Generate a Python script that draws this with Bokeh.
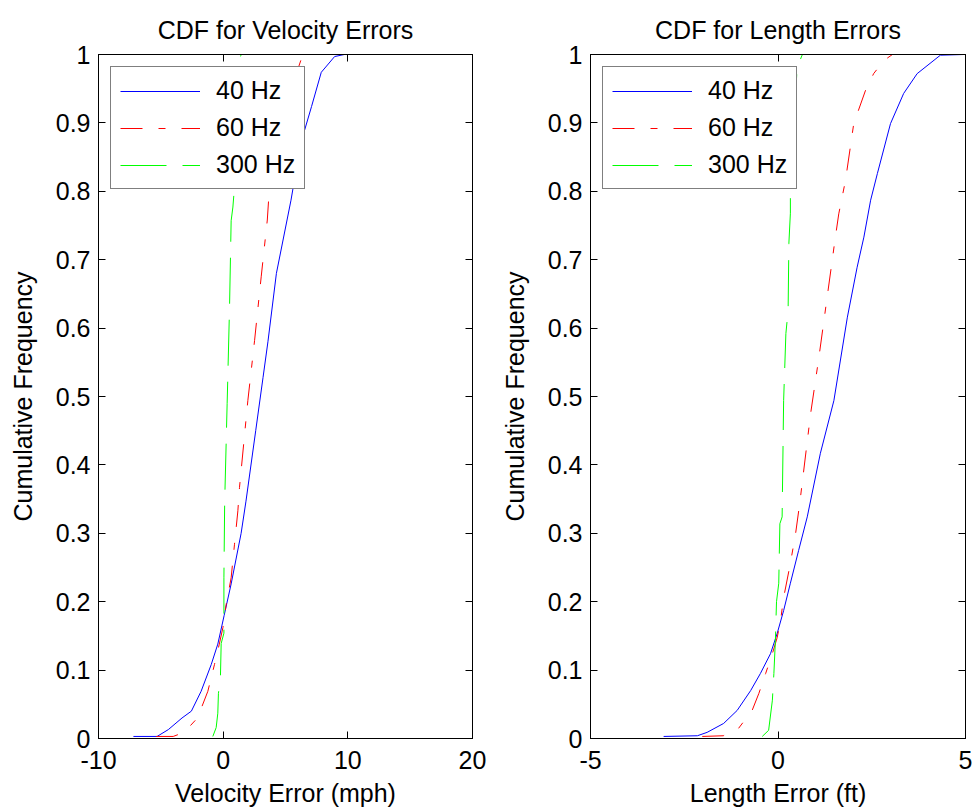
from bokeh.plotting import figure
from bokeh.layouts import row
from bokeh.models import Range1d, FixedTicker, LinearAxis, CustomJSTickFormatter, Legend, LegendItem
from bokeh.embed import file_html
from bokeh.resources import INLINE

# ---------------- data ----------------
y_ticks = [0, 0.1, 0.2, 0.3, 0.4, 0.5, 0.6, 0.7, 0.8, 0.9, 1.0]
vel_x_ticks = [-10, 0, 10, 20]
len_x_ticks = [-5, 0, 5]
series_names = ["40 Hz", "60 Hz", "300 Hz"]

# Velocity errors (mph)
vel_40_x = [-7.2, -5.3, -4.4, -3.3, -2.55, -1.77, -0.96, -0.43, 0.08, 0.64, 1.44, 1.83,
            2.61, 3.2, 3.59, 4.27, 5.44, 6.22, 7.09, 7.87, 8.94, 9.72, 10.3]
vel_40_y = [0.003, 0.003, 0.013, 0.03, 0.04, 0.069, 0.108, 0.138, 0.18, 0.226, 0.3, 0.347,
            0.45, 0.528, 0.58, 0.68, 0.787, 0.87, 0.924, 0.974, 0.997, 1.0, 1.0]
vel_60_x = [-5.37, -4.01, -3.13, -2.06, -1.23, -0.7, -0.31, -0.02, 0.24, 0.64, 0.91, 1.18,
            1.31, 1.98, 2.52, 3.05, 3.54, 3.68, 4.9, 5.83, 6.26, 6.66, 7.48]
vel_60_y = [0.003, 0.003, 0.009, 0.03, 0.069, 0.108, 0.138, 0.162, 0.196, 0.235, 0.284, 0.333,
            0.367, 0.494, 0.582, 0.675, 0.758, 0.797, 0.9, 0.97, 0.993, 1.0, 1.0]
vel_300_x = [-0.83, -0.56, -0.43, -0.38, -0.22, -0.16, 0.06, 0.06, 0.12, 0.32, 0.51,
             0.64, 0.78, 0.88, 1.18, 1.45]
vel_300_y = [0.003, 0.016, 0.037, 0.066, 0.089, 0.139, 0.154, 0.235, 0.345, 0.49, 0.63,
             0.757, 0.777, 0.8, 0.987, 1.0]

# Length errors (ft)
len_40_x = [-3.05, -2.15, -1.89, -1.45, -1.09, -0.73, -0.47, -0.2, -0.02, 0.15, 0.33, 0.55,
            0.78, 1.13, 1.49, 1.85, 2.11, 2.29, 2.47, 2.65, 3.0, 3.35, 3.71, 4.33, 4.95]
len_40_y = [0.003, 0.004, 0.009, 0.022, 0.041, 0.07, 0.095, 0.124, 0.154, 0.187, 0.227, 0.275,
            0.324, 0.417, 0.494, 0.616, 0.689, 0.733, 0.787, 0.826, 0.899, 0.943, 0.972, 0.999, 1.0]
len_60_x = [-2.02, -1.46, -1.05, -0.69, -0.51, -0.33, -0.15, -0.02, 0.07, 0.15, 0.33, 0.47,
            0.58, 0.87, 1.09, 1.31, 1.53, 1.62, 1.8, 2.02, 2.33, 2.55, 2.82, 3.05, 3.22]
len_60_y = [0.003, 0.004, 0.015, 0.041, 0.066, 0.095, 0.124, 0.148, 0.173, 0.206, 0.256, 0.3,
            0.344, 0.475, 0.557, 0.645, 0.733, 0.767, 0.816, 0.899, 0.947, 0.972, 0.991, 1.0, 1.0]
len_300_x = [-0.42, -0.25, -0.15, -0.11, -0.07, -0.04, 0.02, 0.05, 0.11, 0.15, 0.21, 0.27,
             0.29, 0.33, 0.33, 0.51, 0.65, 0.73]
len_300_y = [0.003, 0.012, 0.056, 0.095, 0.143, 0.2, 0.227, 0.314, 0.324, 0.494, 0.592, 0.626,
             0.724, 0.768, 0.801, 0.981, 1.0, 1.0]

FONT = "Liberation Sans"
FS = "25px"
colors = ["#0000ff", "#ff0000", "#00ff00"]
dashes = ["solid", "22 16 7 16", "46 16"]


def style_axis(ax, ticks, labels=True):
    ax.ticker = FixedTicker(ticks=ticks)
    ax.major_tick_in = 7
    ax.major_tick_out = 0
    ax.minor_tick_line_color = None
    ax.major_tick_line_color = "black"
    ax.axis_line_color = "black"
    ax.axis_line_width = 1
    ax.major_label_text_font = FONT
    ax.major_label_text_color = "black"
    ax.axis_label_text_font = FONT
    ax.axis_label_text_font_style = "normal"
    ax.axis_label_text_color = "black"
    ax.axis_label_text_font_size = FS
    if labels:
        ax.major_label_text_font_size = FS
    else:
        ax.major_label_text_font_size = "1px"
        ax.major_label_text_color = None
        ax.major_label_standoff = 0


def make(title, xlabel, xr, xticks, xs, ys, bl, br, toff):
    p = figure(frame_width=374 if bl == 98 else 375, frame_height=684,
               x_range=Range1d(*xr), y_range=Range1d(0, 1),
               output_backend="svg", toolbar_location=None,
               min_border_left=bl, min_border_right=br, min_border_top=54, min_border_bottom=73,
               background_fill_color="white", border_fill_color="white")
    p.xgrid.visible = False
    p.ygrid.visible = False
    p.outline_line_color = "black"
    p.outline_line_width = 1
    p.title.text = title
    p.title.align = "center"
    p.title.offset = toff
    p.title.standoff = 22
    p.title.text_font = FONT
    p.title.text_font_size = FS
    p.title.text_font_style = "normal"
    p.title.text_color = "black"

    style_axis(p.xaxis[0], xticks)
    p.xaxis[0].axis_label = xlabel
    p.xaxis[0].major_label_standoff = 12
    p.xaxis[0].axis_label_standoff = 7
    p.xaxis[0].formatter = CustomJSTickFormatter(code="return String(tick);")
    style_axis(p.yaxis[0], y_ticks)
    p.yaxis[0].axis_label = "Cumulative Frequency"
    p.yaxis[0].major_label_standoff = 8
    p.yaxis[0].axis_label_standoff = 16
    p.yaxis[0].formatter = CustomJSTickFormatter(
        code="return tick.toFixed(1).replace(/\\.0$/, '');")

    top = LinearAxis()
    style_axis(top, xticks, labels=False)
    p.add_layout(top, "above")
    right = LinearAxis()
    style_axis(right, y_ticks, labels=False)
    p.add_layout(right, "right")

    items = []
    for x, y, c, d, name in zip(xs, ys, colors, dashes, series_names):
        r = p.line(x, y, line_color=c, line_width=1, line_dash=d)
        items.append(LegendItem(label=name, renderers=[r]))

    leg = Legend(items=items, location="top_left", margin=12, padding=9, spacing=8,
                 label_height=26, glyph_height=26, glyph_width=80, label_standoff=16,
                 label_text_font=FONT, label_text_font_size=FS, label_text_color="black",
                 border_line_color="black", border_line_width=1,
                 background_fill_color="white", background_fill_alpha=1.0)
    p.add_layout(leg, "center")
    return p


p1 = make("CDF for Velocity Errors", "Velocity Error (mph)", (-10, 20), vel_x_ticks,
          [vel_40_x, vel_60_x, vel_300_x], [vel_40_y, vel_60_y, vel_300_y], 98, 16, -5)
p2 = make("CDF for Length Errors", "Length Error (ft)", (-5, 5), len_x_ticks,
          [len_40_x, len_60_x, len_300_x], [len_40_y, len_60_y, len_300_y], 102, 11, -2)

layout = row(p1, p2)
open("out.html", "w").write(file_html(layout, INLINE))
